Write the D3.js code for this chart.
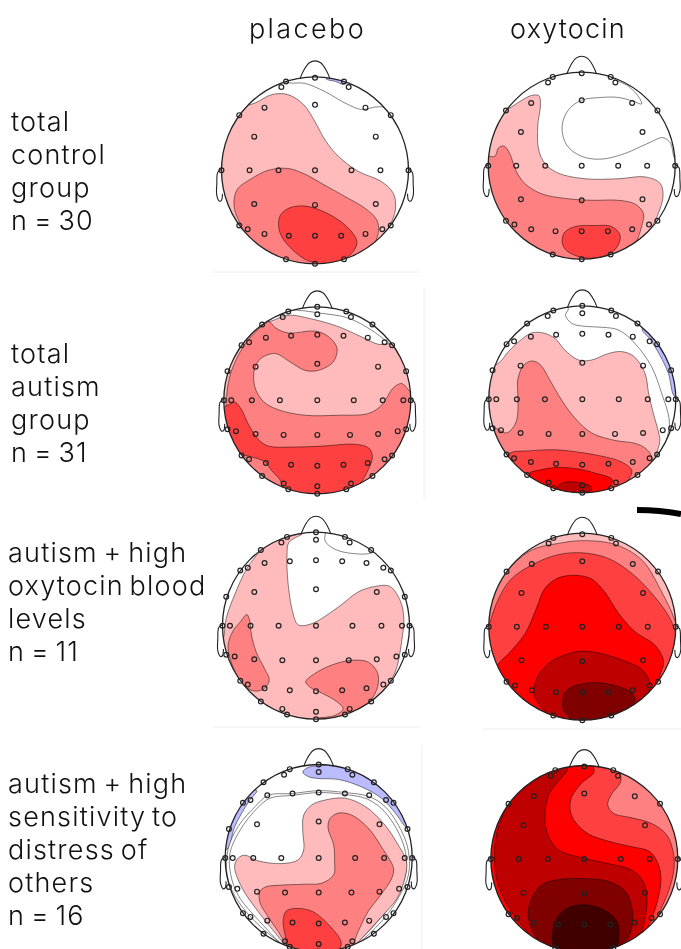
<!DOCTYPE html>
<html>
<head>
<meta charset="utf-8">
<script src="https://cdn.jsdelivr.net/npm/d3@7"></script>
<style>
html,body{margin:0;padding:0;background:#fff;overflow:hidden}
svg{display:block;filter:blur(0.3px)}
text{font-family:Inter,"Noto Sans",sans-serif;font-weight:300;fill:#111;word-spacing:-3px}
</style>
</head>
<body>
<div id="chart"></div>
<script>
// column + row labels
var columns=['placebo','oxytocin'];
var rowLabels=[
	['total','control','group','n = 30'],
	['total','autism','group','n = 31'],
	['autism + high','oxytocin blood','levels','n = 11'],
	['autism + high','sensitivity to','distress of','others','n = 16']
];

// contour levels, low to high
var levels=[-1,0,1,2,3,4,5,6,7];
var levelColors=['#bbbbff','#ffffff','#ffbbbb','#ff8080','#ff4040','#ff0000','#bf0000','#800000','#400000'];

// electrodes, head units (nasion up, radius 100)
var montageA=[[0,99],[-31,95],[31,95],[-36,89],[36,89],[-54,67],[0,70],[54,67],[-81,59],[81,59],[-65,36],[65,36],
	[-100,0],[-70,0],[-39,0],[0,0],[39,0],[70,0],[100,0],[-65,-36],[0,-37],[65,-36],[-81,-59],[-72,-63],[-54,-68],
	[-28,-70],[0,-70],[28,-70],[54,-68],[72,-63],[81,-59],[-31,-95],[31,-95],[0,-100]];
var montageB=[[0,100],[-31,95],[31,95],[0,92],[-37,89],[36,89],[-59,81],[59,81],[-55,67],[-28,69],[0,70],[28,69],[54,67],
	[-81,59],[-73,62],[72,62],[80,59],[-66,36],[0,39],[65,36],[-96,31],[95,31],
	[-100,0],[-92,0],[-70,0],[-40,0],[0,0],[39,0],[70,0],[92,0],[100,0],
	[-96,-31],[-87,-33],[-66,-36],[-36,-37],[0,-37],[35,-37],[65,-36],[86,-33],[95,-31],
	[-81,-59],[-73,-63],[-55,-67],[-28,-69],[0,-70],[28,-69],[54,-67],[72,-63],[80,-59],
	[-59,-81],[59,-81],[-36,-89],[36,-89],[-31,-95],[31,-95],[0,-92],[0,-100]];

// nose + ear outlines
var nose=[[-16,98],[-12,107],[-6,115],[0,117],[6,115],[12,107],[16,98]];
var earLeft=[[-100,1],[-104,-2],[-105,-14],[-105,-27],[-102,-33],[-100,-32],[-99,-25]];
var earRight=earLeft.map(function(d){return [-d[0],d[1]];});

// contours: [level, outline], later ones paint on top
var controlPlacebo=[
	[0,[[-30,94],[-11,93],[11,84],[32,72],[50,65],[70,68],[120,50],[125,-50],[0,-130],[-120,-50],[-110,60],[-60,110]]],
	[-1,[[12,98],[22,95],[31,92],[35,100],[20,106]]],
	[1,[[-64,72],[-46,81],[-29,81],[-12,70],[0,52],[11,32],[25,15],[46,-1],[71,-12],[84,-25],[86,-42],[80,-60],[60,-100],[0,-120],[-70,-100],[-110,-40],[-115,20],[-100,60]]],
	[2,[[-86,-28],[-82,-19],[-68,-9],[-50,0],[-29,2],[-11,-4],[7,-14],[32,-28],[54,-41],[66,-53],[68,-64],[64,-78],[54,-91],[0,-115],[-60,-95],[-80,-57],[-86,-42]]],
	[3,[[-39,-57],[-37,-48],[-29,-41],[-14,-38],[4,-42],[25,-53],[41,-68],[45,-78],[39,-89],[29,-96],[7,-100],[-11,-95],[-29,-80],[-37,-68]]]
];
var controlOxytocin=[
	[1,[[-54,75],[-46,75],[-44,67],[-47,42],[-46,17],[-39,2],[-25,-8],[4,-14],[39,-14],[68,-12],[84,-19],[87,-33],[82,-51],[77,-62],[50,-105],[-20,-115],[-90,-80],[-115,0],[-105,50],[-80,60],[-64,70]]],
	[0,[[32,95],[50,85],[62,72],[64,66],[55,69],[39,73],[21,73],[0,70],[-14,60],[-21,42],[-16,22],[0,10],[21,7],[46,13],[71,24],[87,30],[95,24],[100,6],[115,-5],[125,60],[70,105],[30,110]]],
	[2,[[-93,10],[-89,19],[-83,21],[-77,13],[-70,-6],[-61,-19],[-43,-30],[-18,-35],[11,-37],[39,-37],[57,-41],[66,-51],[64,-65],[57,-83],[20,-115],[-50,-105],[-100,-60],[-112,-15],[-105,10]]],
	[3,[[-21,-80],[-18,-71],[-7,-65],[14,-64],[32,-65],[41,-74],[39,-85],[30,-94],[11,-99],[-7,-96],[-18,-89]]]
];
var autismPlacebo=[
	[0,[[-31,97],[5,93],[33,88],[58,75],[74,63],[100,40],[0,-120],[-100,50],[-60,95]]],
	[1,[[-52,84],[-31,91],[-6,87],[22,79],[47,68],[65,60],[81,59],[120,0],[100,-100],[0,-125],[-110,-70],[-120,30],[-90,80]]],
	[2,[[-52,84],[-44,77],[-31,72],[-2,74],[12,68],[21,56],[17,41],[1,32],[-13,32],[-29,41],[-45,50],[-60,45],[-67,34],[-67,15],[-58,-1],[-42,-10],[-13,-16],[22,-16],[55,-14],[69,-5],[81,13],[90,18],[96,13],[105,-3],[100,-30],[83,-60],[58,-90],[0,-107],[-60,-90],[-83,-59],[-96,-28],[-97,4],[-92,31],[-78,59],[-64,75]]],
	[3,[[-95,-5],[-88,-2],[-81,-10],[-74,-25],[-63,-42],[-52,-49],[-27,-50],[5,-49],[40,-47],[55,-51],[59,-60],[55,-73],[46,-89],[33,-100],[0,-107],[-33,-100],[-40,-85],[-49,-75],[-56,-66],[-72,-60],[-83,-57],[-94,-39],[-99,-21],[-100,-8]]]
];
var autismOxytocin=[
	[-1,[[64,75],[72,65],[83,47],[92,28],[99,3],[110,10],[100,50],[75,85]]],
	[0,[[-15,97],[-18,90],[-11,81],[3,78],[22,77],[39,74],[56,60],[74,35],[85,6],[93,-22],[91,-40],[83,-60],[40,-120],[-110,-60],[-115,60],[-50,100],[-25,110]]],
	[1,[[-88,40],[-79,51],[-65,64],[-54,71],[-42,71],[-29,65],[-19,53],[-4,42],[10,42],[28,49],[42,51],[55,46],[67,28],[71,6],[76,-15],[81,-33],[83,-44],[80,-56],[60,-105],[-10,-115],[-90,-75],[-112,-10],[-108,25]]],
	[2,[[-69,21],[-63,36],[-54,41],[-45,37],[-35,21],[-22,-1],[-8,-20],[10,-36],[35,-44],[56,-47],[67,-52],[74,-61],[70,-90],[0,-115],[-70,-95],[-105,-50],[-95,-31],[-81,-36],[-72,-27],[-69,-15],[-69,6]]],
	[3,[[-79,-59],[-54,-55],[-29,-54],[-8,-56],[17,-60],[42,-67],[53,-76],[50,-85],[30,-110],[-30,-110],[-70,-85]]],
	[4,[[-56,-79],[-47,-76],[-29,-73],[-8,-74],[14,-79],[32,-86],[28,-95],[0,-110],[-40,-105]]],
	[5,[[-27,-94],[-20,-89],[-4,-89],[10,-94],[8,-98],[-8,-100],[-22,-98]]]
];
var highBloodPlacebo=[
	[1,[[-15,98],[-29,89],[-31,76],[-30,47],[-25,15],[-19,1],[-5,2],[24,20],[45,36],[63,42],[79,42],[90,27],[94,8],[92,-14],[86,-46],[79,-60],[50,-105],[-20,-115],[-85,-80],[-105,-30],[-99,-14],[-96,8],[-87,33],[-74,61],[-58,81],[-39,92]]],
	[0,[[10,98],[10,90],[22,81],[42,77],[60,78],[75,90],[40,110],[15,110]]],
	[2,[[-74,12],[-71,6],[-69,-10],[-64,-28],[-55,-46],[-50,-58],[-55,-67],[-65,-70],[-76,-65],[-83,-56],[-92,-35],[-94,-21],[-89,-6],[-81,4]]],
	[2,[[-11,-60],[-1,-51],[17,-42],[38,-37],[56,-39],[66,-51],[66,-65],[58,-81],[45,-94],[24,-101],[2,-99],[20,-96],[29,-89],[22,-81],[6,-72],[-6,-66]]]
];
var highBloodOxytocin=[
	[1,[[-120,0],[-70,105],[0,125],[70,105],[120,0],[70,-105],[0,-125],[-70,-105]]],
	[2,[[-99,20],[-94,36],[-79,61],[-54,82],[-26,89],[0,92],[35,88],[64,71],[85,37],[99,7],[115,-50],[0,-125],[-115,-50]]],
	[3,[[-98,7],[-90,29],[-77,50],[-54,66],[-26,77],[0,79],[28,73],[53,57],[74,36],[92,12],[99,-4],[115,-60],[0,-125],[-115,-60]]],
	[4,[[-90,-40],[-79,-29],[-61,-7],[-49,20],[-40,41],[-26,52],[-8,55],[10,51],[24,37],[39,14],[56,-5],[78,-20],[87,-37],[83,-52],[70,-105],[0,-125],[-70,-105],[-100,-60]]],
	[5,[[-52,-70],[-47,-52],[-33,-37],[-15,-29],[0,-26],[21,-29],[46,-37],[64,-46],[72,-59],[71,-71],[55,-100],[0,-120],[-33,-97],[-47,-82]]],
	[6,[[-21,-82],[-19,-71],[-10,-64],[10,-60],[31,-62],[53,-71],[56,-79],[40,-105],[0,-115],[-15,-96],[-20,-89]]]
];
var distressPlacebo=[
	[-1,[[-17,92],[-11,97],[3,99],[28,101],[60,85],[85,60],[101,28],[94,32],[82,48],[67,64],[46,76],[21,84],[0,85],[-11,87]]],
	[-1,[[-72,72],[-66,72],[-75,60],[-90,33],[-97,10],[-102,10],[-100,35],[-82,60]]],
	[0,[[-97,9],[-86,34],[-68,55],[-54,67],[-28,69],[0,72],[28,70],[53,66],[71,55],[89,28],[96,7],[96,-18],[85,-43],[67,-68],[35,-97],[0,-115],[-32,-97],[-68,-68],[-90,-40],[-98,-18]]],
	[0,[[-95,5],[-84,30],[-66,53],[-52,64],[-28,67],[0,70],[28,68],[52,63],[70,50],[86,26],[93,5],[93,-18],[82,-43],[63,-68],[30,-100],[0,-115],[-30,-100],[-63,-68],[-86,-40],[-94,-18]]],
	[1,[[-90,-9],[-86,0],[-79,3],[-65,-3],[-40,-6],[-22,-2],[-16,9],[-17,28],[-16,46],[-7,57],[7,62],[28,64],[50,55],[71,35],[85,14],[94,-4],[92,-22],[84,-43],[67,-63],[46,-86],[35,-97],[0,-115],[-32,-97],[-45,-82],[-65,-57],[-82,-32]]],
	[2,[[-63,-36],[-57,-31],[-40,-29],[-15,-28],[3,-27],[16,-18],[17,-4],[16,14],[10,32],[12,42],[21,48],[35,46],[53,32],[67,12],[80,-11],[78,-22],[66,-40],[53,-57],[42,-79],[34,-97],[0,-115],[-31,-97],[-43,-79],[-54,-63],[-63,-47]]],
	[3,[[-38,-68],[-35,-57],[-25,-54],[-7,-57],[14,-75],[24,-90],[21,-100],[0,-115],[-31,-100],[-36,-82]]]
];
var distressOxytocin=[
	[2,[[-120,0],[-70,105],[0,125],[70,105],[120,0],[70,-105],[0,-125],[-70,-105]]],
	[3,[[36,99],[39,83],[29,69],[25,58],[31,49],[51,44],[72,38],[88,26],[95,8],[96,-10],[90,-35],[81,-56],[60,-110],[-60,-110],[-120,0],[-60,110],[30,112]]],
	[4,[[10,99],[10,92],[-3,81],[-14,65],[-15,52],[-10,40],[4,27],[26,19],[51,13],[70,8],[79,-5],[82,-21],[79,-42],[72,-64],[63,-81],[40,-115],[-60,-110],[-120,0],[-60,110],[8,112]]],
	[5,[[-18,97],[-28,83],[-38,69],[-42,47],[-39,26],[-28,10],[-6,2],[26,-5],[51,-12],[63,-24],[67,-42],[65,-64],[58,-85],[30,-115],[-30,-110],[-55,-85],[-78,-56],[-92,-28],[-96,1],[-94,26],[-87,47],[-74,72],[-40,100]]],
	[6,[[-60,-60],[-57,-44],[-46,-28],[-28,-22],[-3,-21],[26,-24],[44,-35],[51,-53],[51,-72],[44,-89],[0,-120],[-44,-92],[-55,-78]]],
	[7,[[-34,-81],[-30,-64],[-17,-52],[1,-49],[22,-55],[35,-67],[37,-81],[33,-99],[0,-120],[-31,-99]]]
];

var maps=[
	[controlPlacebo,montageA],[controlOxytocin,montageA],
	[autismPlacebo,montageB],[autismOxytocin,montageB],
	[highBloodPlacebo,montageB],[highBloodOxytocin,montageA],
	[distressPlacebo,montageB],[distressOxytocin,montageA]
];

// layout
var W=681,H=949;
var headX=[315,581.7,317.3,582.3,316,582.3,318.7,584.3];
var headY=[170.3,165.7,400.3,399.3,625.7,626.7,858,859];
var R=93.5;
var colX=[307.5,568],colY=38,colSpacing=[2.4,1.2];
var rowX=[11,11,8,8],rowY=[131,363,562,793],rowStep=32.9;

var color=d3.scaleOrdinal().domain(levels).range(levelColors);

var svg=d3.select('#chart').append('svg').attr('width',W).attr('height',H);

// faint panel rules
[[212,272,420,272],[424,288,424,498],[213,727,420,727],[482,729,681,729],[422,745,422,949]].forEach(function(l){
	svg.append('line').attr('x1',l[0]).attr('y1',l[1]).attr('x2',l[2]).attr('y2',l[3])
		.style('stroke','#eee').style('stroke-width',1);
});

// stray mark top right of row 3
svg.append('path').attr('d','M637,510Q660,510 681,514')
	.style('fill','none').style('stroke','#000').style('stroke-width',6);

svg.selectAll('.col').data(columns).enter().append('text').attr('class','col')
	.attr('x',function(d,i){return colX[i];}).attr('y',colY)
	.attr('text-anchor','middle').style('font-size','27px')
	.style('letter-spacing',function(d,i){return colSpacing[i]+'px';}).text(function(d){return d;});

rowLabels.forEach(function(lines,r){
	svg.selectAll('.row'+r).data(lines).enter().append('text').attr('class','row'+r)
		.attr('x',rowX[r]).attr('y',function(d,i){return rowY[r]+i*rowStep;})
		.style('font-size','27px').style('letter-spacing','1.2px').text(function(d){return d;});
});

maps.forEach(function(m,i){
	var x=d3.scaleLinear().domain([-100,100]).range([headX[i]-R,headX[i]+R]);
	var y=d3.scaleLinear().domain([-100,100]).range([headY[i]+R,headY[i]-R]);
	var blob=d3.line().x(function(d){return x(d[0]);}).y(function(d){return y(d[1]);})
		.curve(d3.curveCatmullRomClosed.alpha(0.5));
	var open=d3.line().x(function(d){return x(d[0]);}).y(function(d){return y(d[1]);})
		.curve(d3.curveCatmullRom.alpha(0.5));

	var g=svg.append('g');
	g.append('clipPath').attr('id','head'+i).append('circle')
		.attr('cx',x(0)).attr('cy',y(0)).attr('r',R);

	g.append('circle').attr('cx',x(0)).attr('cy',y(0)).attr('r',R).style('fill','#fff');

	g.append('g').attr('clip-path','url(#head'+i+')')
		.selectAll('path').data(m[0]).enter().append('path')
		.attr('d',function(d){return blob(d[1]);})
		.style('fill',function(d){return color(d[0]);})
		.style('stroke','#000').style('stroke-opacity',0.6).style('stroke-width',0.8);

	[nose,earLeft,earRight].forEach(function(o){
		g.append('path').attr('d',open(o)).style('fill','none').style('stroke','#222').style('stroke-width',1.1);
	});
	g.append('circle').attr('cx',x(0)).attr('cy',y(0)).attr('r',R)
		.style('fill','none').style('stroke','#222').style('stroke-width',1.3);

	g.append('g').selectAll('circle').data(m[1]).enter().append('circle')
		.attr('cx',function(d){return x(d[0]);}).attr('cy',function(d){return y(d[1]);})
		.attr('r',2.4).style('fill','none').style('stroke','#222').style('stroke-width',1.2);
});
</script>
</body>
</html>
